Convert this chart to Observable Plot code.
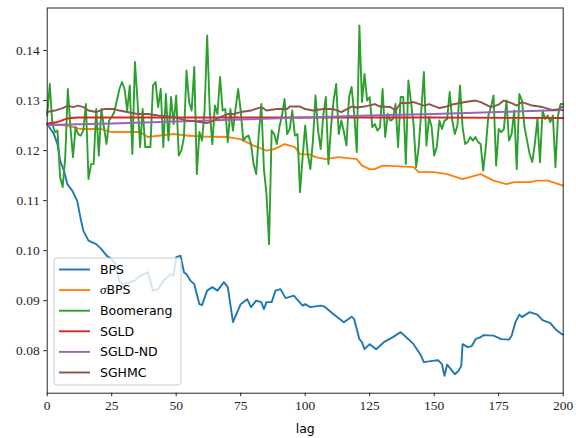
<!DOCTYPE html>
<html>
<head>
<meta charset="utf-8">
<script src="https://cdn.jsdelivr.net/npm/d3@7"></script>
<script src="https://cdn.jsdelivr.net/npm/@observablehq/plot@0.6"></script>
<style>
  html, body { margin: 0; padding: 0; background: #fff; }
  #chart { position: relative; width: 576px; height: 438px; }
</style>
</head>
<body>
<div id="chart"></div>
<script>
const seriesNames = ["BPS", "σBPS", "Boomerang", "SGLD", "SGLD-ND", "SGHMC"];
const seriesColors = ["#1f77b4", "#ff7f0e", "#2ca02c", "#d62728", "#9467bd", "#8c564b"];
const xTicks = [0, 25, 50, 75, 100, 125, 150, 175, 200];
const yTicks = [0.08, 0.09, 0.10, 0.11, 0.12, 0.13, 0.14];

const bpsLag = [0, 2.6, 4, 5, 6.5, 7.8, 9.7, 11.6, 13, 14, 16, 19, 21, 23, 25, 26.5, 28, 30, 34, 35.5, 39, 41, 43, 45, 48, 49, 50, 51.7, 53, 54, 55.5, 57, 59, 60, 62, 64, 66, 68.5, 70, 72, 75, 77.5, 79, 81, 83, 84, 85, 87, 88.5, 90.4, 92.4, 95.6, 99, 100, 102, 106, 107.5, 111, 115, 118, 119, 121, 122, 123, 125, 127.5, 130.5, 134, 137, 140, 142, 144.6, 146, 150, 151.5, 153, 154, 155, 158, 159.5, 160.5, 161, 163, 164.5, 166, 168, 169, 173, 176, 179, 180, 181.5, 183, 184, 187, 190, 192, 195, 197, 199.5, 200];
const bpsVal = [0.1253, 0.1233, 0.1213, 0.118, 0.116, 0.1133, 0.112, 0.110, 0.1063, 0.104, 0.102, 0.1013, 0.1003, 0.099, 0.0983, 0.0973, 0.0937, 0.0933, 0.094, 0.0947, 0.0957, 0.092, 0.0923, 0.094, 0.0953, 0.095, 0.0987, 0.099, 0.0957, 0.0953, 0.094, 0.0933, 0.0893, 0.0891, 0.092, 0.0927, 0.092, 0.0937, 0.0927, 0.0857, 0.0893, 0.0903, 0.0887, 0.090, 0.0897, 0.0883, 0.0897, 0.0897, 0.092, 0.0923, 0.0905, 0.091, 0.089, 0.0893, 0.0887, 0.089, 0.0888, 0.0873, 0.0857, 0.0868, 0.0863, 0.0823, 0.0817, 0.0803, 0.0813, 0.0803, 0.0817, 0.0827, 0.0837, 0.0823, 0.0813, 0.0793, 0.0777, 0.078, 0.0781, 0.0773, 0.075, 0.0772, 0.0753, 0.076, 0.077, 0.0813, 0.0807, 0.0809, 0.0823, 0.0827, 0.0831, 0.083, 0.0823, 0.0822, 0.083, 0.0857, 0.0872, 0.0867, 0.0877, 0.0872, 0.0861, 0.0855, 0.0843, 0.0833, 0.0832];

const sbpsLag = [0, 8, 13, 21, 25, 36, 39, 44, 49, 54, 60, 70, 75, 80, 85, 88, 92, 96, 98, 102, 104, 108, 113, 120, 122, 125, 127, 130, 135, 142, 144, 150, 155, 161, 168, 173, 178, 181, 187, 190, 194, 197, 200];
const sbpsVal = [0.1253, 0.125, 0.1243, 0.1243, 0.1237, 0.1237, 0.1227, 0.123, 0.1233, 0.123, 0.1228, 0.1227, 0.1223, 0.121, 0.120, 0.1203, 0.1213, 0.1207, 0.1193, 0.1192, 0.1187, 0.1183, 0.1187, 0.1183, 0.117, 0.1163, 0.1163, 0.117, 0.1169, 0.1167, 0.1157, 0.1157, 0.1153, 0.1143, 0.1153, 0.114, 0.1133, 0.1137, 0.1137, 0.114, 0.114, 0.1135, 0.113];

const boomVal = [
  0.127, 0.1333, 0.1253, 0.1237, 0.124, 0.1147, 0.1127, 0.1187, 0.1323, 0.1247,
  0.1187, 0.1247, 0.1233, 0.123, 0.124, 0.1293, 0.1143, 0.1173, 0.1173, 0.1283,
  0.119, 0.1283, 0.1247, 0.1213, 0.126, 0.1267, 0.1277, 0.130, 0.1323, 0.1337,
  0.1323, 0.128, 0.133, 0.1193, 0.1377, 0.130, 0.1207, 0.1283, 0.1207, 0.1207,
  0.1207, 0.133, 0.1337, 0.1287, 0.1323, 0.1207, 0.1313, 0.122, 0.1307, 0.1253,
  0.131, 0.119, 0.120, 0.1227, 0.136, 0.1297, 0.128, 0.1367, 0.1153, 0.1237,
  0.122, 0.128, 0.143, 0.128, 0.1213, 0.129, 0.1273, 0.1347, 0.128, 0.1283,
  0.1217, 0.1283, 0.124, 0.1283, 0.1323, 0.128, 0.122, 0.1227, 0.123, 0.1213,
  0.1173, 0.1153, 0.1233, 0.1293, 0.1163, 0.1113, 0.1013, 0.124, 0.1233, 0.1213,
  0.1247, 0.127, 0.1303, 0.1233, 0.1243, 0.128, 0.123, 0.1233, 0.1117, 0.1187,
  0.125, 0.1193, 0.1163, 0.122, 0.131, 0.124, 0.1203, 0.127, 0.1307, 0.1173,
  0.1247, 0.130, 0.1333, 0.1233, 0.126, 0.1237, 0.121, 0.1307, 0.1327, 0.1273,
  0.1197, 0.145, 0.1297, 0.1353, 0.130, 0.1307, 0.1247, 0.1253, 0.124, 0.1247,
  0.1323, 0.1227, 0.1273, 0.126, 0.1263, 0.1293, 0.1207, 0.1307, 0.1307, 0.1173,
  0.134, 0.1297, 0.1253, 0.1167, 0.1207, 0.128, 0.1357, 0.121, 0.1267, 0.1247,
  0.119, 0.1207, 0.126, 0.1243, 0.126, 0.1263, 0.1317, 0.126, 0.1233, 0.125,
  0.133, 0.1247, 0.1213, 0.1217, 0.1227, 0.122, 0.1227, 0.1217, 0.1213, 0.116,
  0.1207, 0.127, 0.1287, 0.131, 0.117, 0.1243, 0.1237, 0.1243, 0.130, 0.122,
  0.1233, 0.128, 0.1163, 0.1313, 0.130, 0.1247, 0.122, 0.1193, 0.1177, 0.1213,
  0.1263, 0.1177, 0.128, 0.1263, 0.127, 0.1257, 0.127, 0.1167, 0.127, 0.1293,
  0.1293
];

const sgldLag = [0, 3, 5, 7, 9, 12, 20, 50, 100, 150, 200];
const sgldVal = [0.1254, 0.1256, 0.1259, 0.1263, 0.1265, 0.1266, 0.1266, 0.1266, 0.1266, 0.1266, 0.1265];

const sgldndLag = [0, 25, 50, 75, 100, 125, 150, 175, 200];
const sgldndVal = [0.1251, 0.1254, 0.1258, 0.1262, 0.1266, 0.1270, 0.1273, 0.1277, 0.1281];

const sghmcLag = [0, 3, 6, 8, 10, 12, 14, 16, 19, 22, 26, 28, 31, 35, 39, 43, 47, 49, 52, 54, 57, 59, 62, 65, 67, 70, 72, 75, 79, 83, 85, 89, 93, 94, 98, 100, 103, 107, 111, 114, 118, 120, 123, 127, 129, 133, 135, 137, 140, 142, 146, 148, 152, 154, 157, 162, 166, 168, 172, 175, 177, 180, 182, 184, 188, 192, 196, 198, 200];
const sghmcVal = [0.1277, 0.128, 0.1285, 0.129, 0.1287, 0.129, 0.1287, 0.128, 0.1277, 0.1283, 0.1283, 0.128, 0.1277, 0.1273, 0.1273, 0.127, 0.1268, 0.1267, 0.1263, 0.126, 0.1259, 0.1257, 0.1255, 0.1261, 0.1267, 0.1273, 0.1273, 0.1277, 0.128, 0.1287, 0.128, 0.1283, 0.1283, 0.1288, 0.1288, 0.1283, 0.128, 0.1283, 0.1283, 0.1277, 0.1288, 0.1286, 0.1288, 0.1293, 0.1288, 0.1287, 0.128, 0.1295, 0.1295, 0.1297, 0.129, 0.1293, 0.1285, 0.1287, 0.1292, 0.1297, 0.130, 0.1297, 0.1287, 0.1292, 0.130, 0.1295, 0.129, 0.1297, 0.129, 0.1287, 0.1281, 0.1282, 0.1288];

function rows(name, lags, vals) {
  return vals.map((v, i) => ({series: name, lag: lags ? lags[i] : i, value: v}));
}
const data = [
  ...rows(seriesNames[0], bpsLag, bpsVal),
  ...rows(seriesNames[1], sbpsLag, sbpsVal),
  ...rows(seriesNames[2], null, boomVal),
  ...rows(seriesNames[3], sgldLag, sgldVal),
  ...rows(seriesNames[4], sgldndLag, sgldndVal),
  ...rows(seriesNames[5], sghmcLag, sghmcVal)
];

const tickFont = "'Liberation Serif', 'DejaVu Serif', serif";
const sansFont = "'DejaVu Sans', sans-serif";

const chart = Plot.plot({
  width: 576,
  height: 438,
  marginLeft: 46.7,
  marginRight: 13.3,
  marginTop: 7.5,
  marginBottom: 45.3,
  style: {background: "#fff", overflow: "visible"},
  x: {domain: [0, 200]},
  y: {domain: [0.0715, 0.1485]},
  color: {domain: seriesNames, range: seriesColors},
  marks: [
    Plot.lineY(data, {x: "lag", y: "value", z: "series", stroke: "series", strokeWidth: 1.9, strokeLinejoin: "round", strokeLinecap: "round"}),
    Plot.frame({stroke: "#262626", strokeWidth: 1, strokeOpacity: 1}),
    Plot.axisX({ticks: xTicks, tickFormat: d => String(d), tickSize: 3.5, tickPadding: 4, label: null, stroke: "#262626", fill: "#262626", fontFamily: tickFont, fontSize: 13.5}),
    Plot.axisY({ticks: yTicks, tickFormat: d => d.toFixed(2), tickSize: 3.5, tickPadding: 4, label: null, stroke: "#262626", fill: "#262626", fontFamily: tickFont, fontSize: 13.5}),
    Plot.text(["lag"], {frameAnchor: "bottom", dy: 36, text: d => d, fontSize: 12.5, fontFamily: sansFont, fill: "#000", lineAnchor: "middle"})
  ]
});
document.getElementById("chart").appendChild(chart);

// Legend drawn into the plot's svg
const svg = d3.select(chart);
const lg = svg.append("g").attr("transform", "translate(54,258)")
  .attr("text-anchor", "start").style("text-anchor", "start");
lg.append("rect").attr("width", 127).attr("height", 127).attr("rx", 3)
  .attr("fill", "#fff").attr("fill-opacity", 0.8).attr("stroke", "#cccccc").attr("stroke-width", 1);
seriesNames.forEach((name, i) => {
  const yy = 11.5 + i * 20.6;
  lg.append("line").attr("x1", 5).attr("x2", 36).attr("y1", yy).attr("y2", yy)
    .attr("stroke", seriesColors[i]).attr("stroke-width", 1.9);
  const t = lg.append("text").attr("x", 46).attr("y", yy).attr("dy", "0.35em")
    .attr("text-anchor", "start").style("text-anchor", "start")
    .style("font-family", sansFont).style("font-size", "12.5px").attr("fill", "#000");
  if (name.startsWith("σ")) {
    t.append("tspan").style("font-family", tickFont).style("font-style", "italic").style("font-size", "13px").text("σ");
    t.append("tspan").text(name.slice(1));
  } else {
    t.text(name);
  }
});
</script>
</body>
</html>
